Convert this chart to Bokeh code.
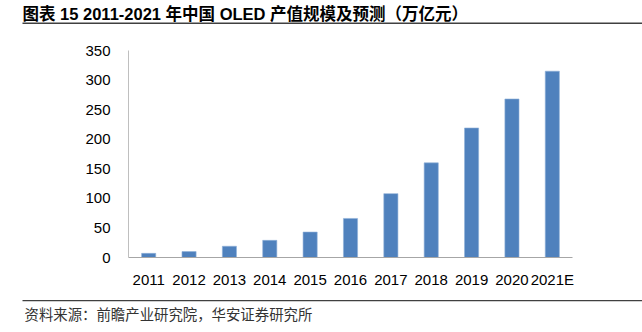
from bokeh.plotting import figure
from bokeh.layouts import column
from bokeh.models import Label, BoxAnnotation, ColumnDataSource, FixedTicker, Range1d
from bokeh.embed import file_html
from bokeh.resources import INLINE

years = ["2011", "2012", "2013", "2014", "2015", "2016", "2017", "2018", "2019", "2020", "2021E"]
values = [7, 10, 19, 29, 43, 66, 108, 160, 219, 268, 315]
y_ticks = [0, 50, 100, 150, 200, 250, 300, 350]
title_text = "图表 15 2011-2021 年中国 OLED 产值规模及预测（万亿元）"
source_text = "资料来源：前瞻产业研究院，华安证券研究所"

W = 642
TOP_H, MID_H, BOT_H = 26, 264, 42
FL, FR = 128, 572
FT, FB = 50 - TOP_H, 257 - TOP_H  # frame top/bottom inside middle figure


def plain_fig(h):
    f = figure(width=W, height=h, x_range=Range1d(0, W), y_range=Range1d(0, h),
               output_backend="svg", toolbar_location=None,
               x_axis_type=None, y_axis_type=None, min_border=0, frame_align=False)
    f.outline_line_color = None
    f.grid.grid_line_color = None
    f.background_fill_color = "white"
    f.border_fill_color = "white"
    return f


def hline(f, h, y_top, thickness, x0=22):
    f.add_layout(BoxAnnotation(left=x0, right=W, top=h - y_top, bottom=h - y_top - thickness,
                               left_units="screen", right_units="screen",
                               top_units="screen", bottom_units="screen",
                               fill_color="#404040", fill_alpha=1, line_color=None))


# --- title strip ---
top = plain_fig(TOP_H)
top.add_layout(Label(x=22, y=TOP_H - 13, x_units="screen", y_units="screen",
                     text=title_text, text_font="'Liberation Sans', 'Noto Sans CJK SC'",
                     text_font_style="bold",
                     text_font_size="16.5px", text_baseline="middle", text_color="#000000"))
hline(top, TOP_H, 22, 1.5)

# --- chart ---
p = figure(x_range=years, y_range=(0, 350), width=W, height=MID_H,
           output_backend="svg", toolbar_location=None, frame_align=False,
           min_border_left=FL, min_border_right=W - FR,
           min_border_top=FT, min_border_bottom=MID_H - FB)
p.outline_line_color = None
p.background_fill_color = "white"
p.border_fill_color = "white"
p.grid.grid_line_color = None

src = ColumnDataSource(dict(x=years, top=values))
p.vbar(x="x", top="top", width=0.35, source=src, fill_color="#4f81bd",
       line_color="#8fb0d8", line_width=0.6)

p.yaxis.ticker = FixedTicker(ticks=y_ticks)
p.yaxis.axis_line_color = "#bfbfbf"
p.yaxis.major_tick_line_color = None
p.yaxis.minor_tick_line_color = None
p.yaxis.major_label_standoff = 12
p.yaxis.major_label_text_font = "Liberation Sans"
p.yaxis.major_label_text_font_size = "15px"
p.yaxis.major_label_text_color = "#000000"

p.xaxis.axis_line_color = "#a6a6a6"
p.xaxis.major_tick_line_color = None
p.xaxis.minor_tick_line_color = None
p.xaxis.major_label_standoff = 7
p.xaxis.major_label_text_font = "Liberation Sans"
p.xaxis.major_label_text_font_size = "15px"
p.xaxis.major_label_text_color = "#000000"

# --- source strip ---
bot = plain_fig(BOT_H)
hline(bot, BOT_H, 9.5, 1.2)
bot.add_layout(Label(x=24, y=BOT_H - 23, x_units="screen", y_units="screen",
                     text=source_text, text_font="Noto Sans CJK SC",
                     text_font_size="14.4px", text_baseline="middle", text_color="#333333"))

layout = column(top, p, bot, spacing=0)
open("out.html", "w").write(file_html(layout, INLINE))
